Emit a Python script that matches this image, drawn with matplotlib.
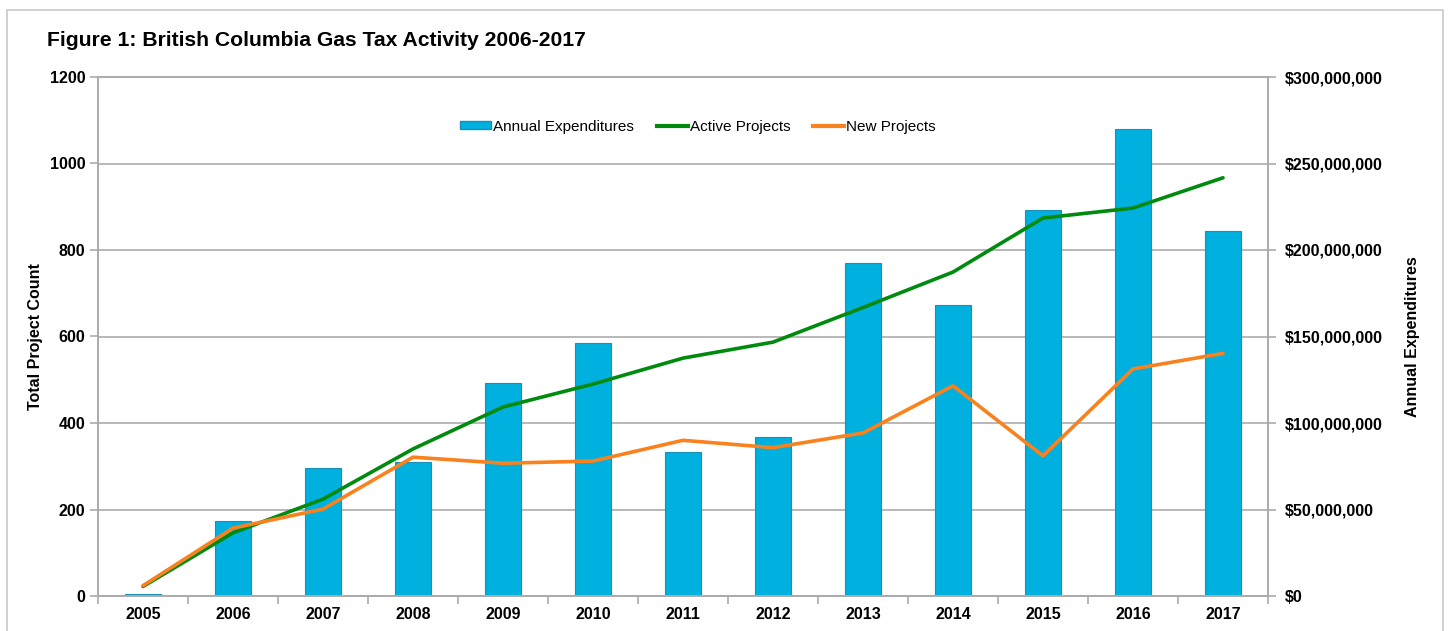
import numpy as np
import matplotlib.pyplot as plt
from matplotlib.patches import Rectangle, Patch
from matplotlib.lines import Line2D
from matplotlib.ticker import FuncFormatter, FixedLocator

plt.rcParams['font.family'] = ['Liberation Sans', 'DejaVu Sans']

years = ['2005', '2006', '2007', '2008', '2009', '2010', '2011',
         '2012', '2013', '2014', '2015', '2016', '2017']
expenditures = [1200000, 43500000, 74000000, 77500000, 123000000, 146000000, 83000000,
                92000000, 192500000, 168000000, 223000000, 270000000, 211000000]
active_projects = [22, 146, 224, 340, 437, 490, 550, 587, 667, 749, 874, 897, 967]
new_projects = [24, 157, 201, 321, 307, 312, 360, 343, 377, 486, 324, 525, 561]

bar_color = '#00B0DE'
bar_edge = '#1A90B8'
green = '#008A0E'
orange = '#F9821E'
grid_col = '#ABABAB'

fig = plt.figure(figsize=(14.48, 6.31), dpi=100)
fig.patches.append(Rectangle((7 / 1448, -0.1), (1443 - 7) / 1448, 1.1 - 10 / 631,
                             transform=fig.transFigure, fill=False,
                             edgecolor='#C8C8C8', linewidth=1.2))

ax = fig.add_axes([98 / 1448, 35 / 631, (1268 - 98) / 1448, (596 - 77) / 631])
ax2 = ax.twinx()
ax.set_zorder(ax2.get_zorder() + 1)  # lines above bars
ax.patch.set_visible(False)
ax2.set_facecolor('#EBEBEB')

x = np.arange(len(years))
ax2.bar(x, expenditures, width=0.41, color=bar_color, edgecolor=bar_edge,
        linewidth=0.8, zorder=2)
ax.plot(x, active_projects, color=green, linewidth=2.6, solid_capstyle='round', zorder=3)
ax.plot(x, new_projects, color=orange, linewidth=2.6, solid_capstyle='round', zorder=4)

ax.set_xlim(-0.5, len(years) - 0.5)
ax.set_ylim(0, 1200)
ax2.set_ylim(0, 300000000)
ax.set_yticks(range(0, 1201, 200))
ax2.set_yticks(range(0, 300000001, 50000000))
ax2.yaxis.set_major_formatter(FuncFormatter(lambda v, p: '${:,.0f}'.format(v)))
ax2.yaxis.grid(True, color=grid_col, linewidth=1.2, zorder=0)
ax2.set_axisbelow(True)

ax.set_xticks(x)
ax.set_xticklabels(years)
ax.xaxis.set_minor_locator(FixedLocator(np.arange(-0.5, len(years), 1.0)))
ax.tick_params(axis='x', which='major', length=0, pad=8)
ax.tick_params(axis='x', which='minor', length=6, color=grid_col, width=1.2, direction='out')
ax.tick_params(axis='y', length=6, color=grid_col, width=1.2, pad=3)
ax2.tick_params(axis='y', length=6, color=grid_col, width=1.2, pad=6)

for lab in ax.get_xticklabels() + ax.get_yticklabels() + ax2.get_yticklabels():
    lab.set_fontweight('bold')
    lab.set_fontsize(11.5)

for a in (ax, ax2):
    for s in a.spines.values():
        s.set_color(grid_col)
        s.set_linewidth(1.2)

ax.set_ylabel('Total Project Count', fontsize=11.5, fontweight='bold', labelpad=5)
ax2.set_ylabel('Annual Expenditures', fontsize=11.5, fontweight='bold', labelpad=16,
               rotation=90)

handles = [Patch(facecolor=bar_color, edgecolor=bar_edge),
           Line2D([], [], color=green, linewidth=3),
           Line2D([], [], color=orange, linewidth=3)]
ax.legend(handles, ['Annual Expenditures', 'Active Projects', 'New Projects'],
          loc='center', bbox_to_anchor=(0.513, 0.904), ncol=3, frameon=False,
          fontsize=11, handlelength=2.0, handleheight=0.45, handletextpad=0.15,
          columnspacing=1.5)

fig.text(47 / 1448, 1 - 40 / 631, 'Figure 1: British Columbia Gas Tax Activity 2006-2017',
         fontsize=15.2, fontweight='bold', va='center', ha='left')

fig.savefig('out.png', dpi=100)
